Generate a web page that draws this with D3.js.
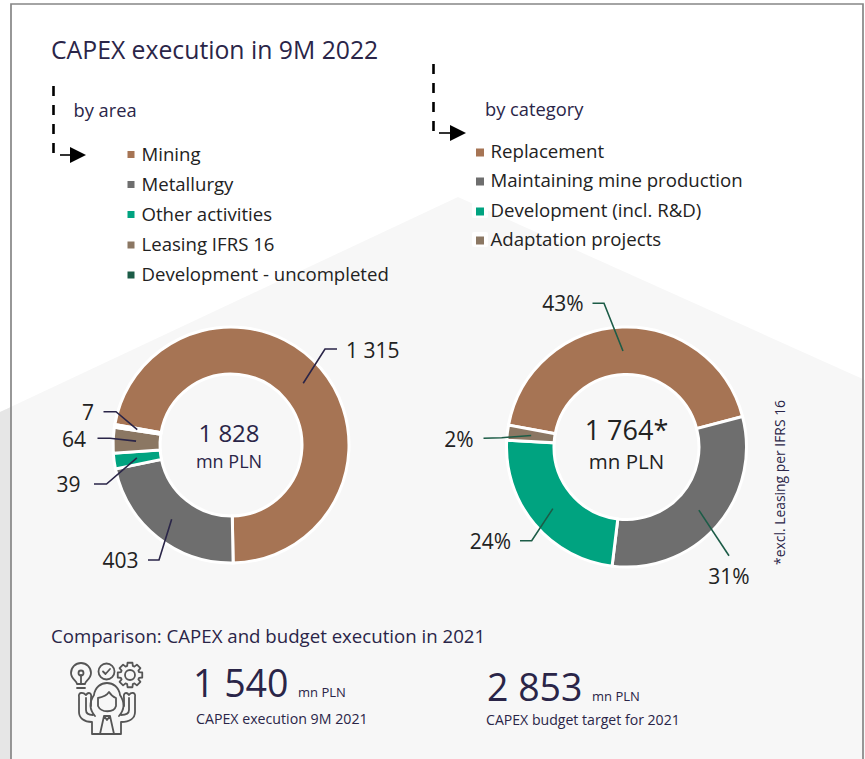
<!DOCTYPE html>
<html>
<head>
<meta charset="utf-8">
<script src="https://cdnjs.cloudflare.com/ajax/libs/d3/7.8.5/d3.min.js"></script>
<style>
  html, body { margin: 0; padding: 0; background: #fff; }
  svg { display: block; }
  text { font-family: "Open Sans", sans-serif; }
</style>
</head>
<body>
<div id="container"></div>
<script>
// chart data
var areaNames = ["Mining", "Metallurgy", "Other activities", "Leasing IFRS 16", "Development - uncompleted"];
var areaValues = [1315, 403, 39, 64, 7];
var areaLabels = ["1 315", "403", "39", "64", "7"];
var areaColors = ["#a67454", "#6e6e6e", "#00a380", "#8b7763", "#1c5c47"];

var categoryNames = ["Replacement", "Maintaining mine production", "Development (incl. R&D)", "Adaptation projects"];
var categoryValues = [43, 31, 24, 2];
var categoryLabels = ["43%", "31%", "24%", "2%"];
var categoryColors = ["#a67454", "#6e6e6e", "#00a380", "#8b7763"];

var navy = "#2a2548";
var ink = "#222222";

var width = 865, height = 759;

var svg = d3.select("#container")
  .append("svg")
  .attr("width", width)
  .attr("height", height)
  .attr("viewBox", "0 0 865 759");

// backdrop
svg.append("rect").attr("width", width).attr("height", height).attr("fill", "#fff");
svg.append("polygon")
  .attr("points", "0,412 458,197 865,380 865,759 0,759")
  .attr("fill", "#f7f7f7");
svg.append("polygon")
  .attr("points", "0,412 11,407 11,759 0,759")
  .attr("fill", "#e6e6e6");
svg.append("path")
  .attr("d", "M11,759V4H863V759")
  .attr("fill", "none")
  .attr("stroke", "#868686")
  .attr("stroke-width", 1.7);

function txt(x, y, s, size, color, anchor) {
  return svg.append("text")
    .attr("x", x)
    .attr("y", y)
    .attr("font-size", size)
    .attr("fill", color)
    .attr("text-anchor", anchor || "start")
    .text(s);
}

txt(51, 59, "CAPEX execution in 9M 2022", 24.75, navy);
txt(73.5, 117, "by area", 18.3, navy);
txt(485, 116, "by category", 18.3, navy);

// dashed elbow arrows
function elbow(x, y0, y1, ax0, ax1, ay) {
  svg.append("line")
    .attr("x1", x).attr("x2", x).attr("y1", y0).attr("y2", y1)
    .attr("stroke", "#000").attr("stroke-width", 2.6)
    .attr("stroke-dasharray", "10 9");
  svg.append("line")
    .attr("x1", ax0).attr("x2", ax1 - 8).attr("y1", ay).attr("y2", ay)
    .attr("stroke", "#000").attr("stroke-width", 1.6);
  svg.append("polygon")
    .attr("points", [[ax1 - 16, ay - 8], [ax1, ay], [ax1 - 16, ay + 8]].join(" "))
    .attr("fill", "#000");
}
elbow(53.5, 86, 153, 60, 86, 155);
elbow(433.5, 64, 131, 439, 466, 133);

// legends
function legend(names, colors, xBox, boxSize, xText, baselines, size, halo) {
  names.forEach(function(name, i) {
    var y = baselines[i];
    if (halo && i >= 2) {
      svg.append("rect")
        .attr("x", xBox - 4).attr("y", y - 14)
        .attr("width", boxSize + 8).attr("height", 15)
        .attr("rx", 2).attr("fill", "#fff");
    }
    svg.append("rect")
      .attr("x", xBox).attr("y", y - 9.5)
      .attr("width", boxSize).attr("height", boxSize)
      .attr("fill", colors[i]);
    txt(xText, y, name, size, ink);
  });
}
legend(areaNames, areaColors, 127.5, 7, 141.5, [160.5, 190.5, 220.5, 251, 281], 18.6, false);
legend(categoryNames, categoryColors, 476, 8, 490.5, [158, 187, 217, 246], 18.65, true);

// donuts
function donut(cfg) {
  var pie = d3.pie().sort(null)
    .startAngle(cfg.start * Math.PI / 180)
    .endAngle((cfg.start + 360) * Math.PI / 180);
  var arc = d3.arc().innerRadius(cfg.r0).outerRadius(cfg.r1);
  var g = svg.append("g").attr("transform", "translate(" + cfg.cx + "," + cfg.cy + ")");
  var slices = pie(cfg.values);

  g.selectAll("path.slice")
    .data(slices)
    .enter().append("path")
    .attr("class", "slice")
    .attr("d", arc)
    .attr("fill", function(d, i) { return cfg.colors[i]; })
    .attr("stroke", "#fff")
    .attr("stroke-width", 3);

  // leaders start on the slice's mid angle, the rest is label placement
  slices.forEach(function(d, i) {
    var l = cfg.leaders[i];
    var mid = (d.startAngle + d.endAngle) / 2;
    var p0 = [cfg.rLead * Math.sin(mid), -cfg.rLead * Math.cos(mid)];
    g.append("polyline")
      .attr("points", [p0].concat(l.pts).join(" "))
      .attr("fill", "none")
      .attr("stroke", cfg.leadColor)
      .attr("stroke-width", 1.6);
    g.append("text")
      .attr("x", l.tx)
      .attr("y", l.ty)
      .attr("font-size", 21)
      .attr("fill", ink)
      .attr("text-anchor", l.anchor)
      .text(cfg.labels[i]);
  });
}

donut({
  cx: 231, cy: 445, r0: 71, r1: 118, start: -80,
  values: areaValues, colors: areaColors, labels: areaLabels,
  rLead: 95, leadColor: navy,
  leaders: [
    { pts: [[94, -96], [106, -96]], tx: 115, ty: -87, anchor: "start" },
    { pts: [[-72, 115], [-83, 115]], tx: -92.5, ty: 123, anchor: "end" },
    { pts: [[-124.5, 39], [-137, 39]], tx: -150.5, ty: 47, anchor: "end" },
    { pts: [[-121, -6.7], [-133.5, -6.7]], tx: -145, ty: 1.5, anchor: "end" },
    { pts: [[-115, -33.3], [-127.5, -33.3]], tx: -137, ty: -25, anchor: "end" }
  ]
});

donut({
  cx: 626.5, cy: 447, r0: 72.5, r1: 120, start: -79.5,
  values: categoryValues, colors: categoryColors, labels: categoryLabels,
  rLead: 96, leadColor: "#1c5c47",
  leaders: [
    { pts: [[-22.5, -143.7], [-34, -143.7]], tx: -43, ty: -136, anchor: "end" },
    { pts: [[102.5, 108.7]], tx: 123, ty: 136.5, anchor: "end" },
    { pts: [[-94.8, 93.7], [-106.5, 93.7]], tx: -115.5, ty: 102, anchor: "end" },
    { pts: [[-124.8, -9.3], [-143, -8.7]], tx: -153, ty: 0, anchor: "end" }
  ]
});

// centre totals
txt(229, 442, "1 828", 24, navy, "middle");
txt(229, 468, "mn PLN", 18, navy, "middle");
txt(626.5, 439.5, "1 764*", 27, ink, "middle");
txt(626.5, 469, "mn PLN", 20.5, ink, "middle");

// side note
svg.append("text")
  .attr("transform", "translate(785,565) rotate(-90)")
  .attr("font-size", 13.9)
  .attr("fill", navy)
  .text("*excl. Leasing per IFRS 16");

// comparison
txt(51, 642.5, "Comparison: CAPEX and budget execution in 2021", 18.65, navy);
txt(193, 697, "1 540", 37.5, navy);
txt(298, 697, "mn PLN", 13, navy);
txt(196, 724, "CAPEX execution 9M 2021", 14.2, navy);
txt(487, 701, "2 853", 37.5, navy);
txt(592, 701, "mn PLN", 13, navy);
txt(486, 725, "CAPEX budget target for 2021", 14.1, navy);

// icon
var icon = svg.append("g")
  .attr("fill", "none")
  .attr("stroke", "#555")
  .attr("stroke-width", 1.8)
  .attr("stroke-linejoin", "round")
  .attr("stroke-linecap", "round");
icon.append("path").attr("d", "M77,684 C77,681 71,679 71,673 A10,10 0 1 1 91,673 C91,679 85,681 85,684 Z M77,688 H85 M81,684 V675");
icon.append("circle").attr("cx", 81).attr("cy", 673).attr("r", 2.5);
icon.append("circle").attr("cx", 106.5).attr("cy", 671.5).attr("r", 8);
icon.append("path").attr("d", "M103,671.5 L105.5,674 L110,669");

// gear outline, eight teeth
var gearPts = [];
d3.range(8).forEach(function(i) {
  var a = i * Math.PI / 4;
  [[-0.3, 9.5], [-0.2, 12.5], [0.2, 12.5], [0.3, 9.5]].forEach(function(p) {
    gearPts.push([130 + p[1] * Math.sin(a + p[0]), 675 - p[1] * Math.cos(a + p[0])]);
  });
});
icon.append("polygon").attr("points", gearPts.join(" "));
icon.append("circle").attr("cx", 130).attr("cy", 675).attr("r", 5);

// person
icon.append("path").attr("d", "M95,716 C88,708 90,701 94,695 C96,679 118,679 120,695 C124,701 126,708 119,716");
icon.append("path").attr("d", "M98,698 C103,697 107,695 109,692 C111,695 113,697 116,698 V706 C114,713 101,713 98,706 Z");
icon.append("path").attr("d", "M86,698 V710 C86,714 90,715 93,715 M129,698 V710 C129,714 125,715 121,715");
icon.append("path").attr("d", "M79,697 C78,692 83,692 86,695 C88,692 92,692 91,698 V706 M79,697 V712 C79,718 84,722 92,722 V734 H121 V722 C130,722 135,718 135,712 V697 M135,697 C136,692 131,692 129,695 C127,692 123,692 124,698 V706");
icon.append("path").attr("d", "M104,716 L100,734 M110,716 L114,734 M104,716 H110 L107,720 Z");
</script>
</body>
</html>
